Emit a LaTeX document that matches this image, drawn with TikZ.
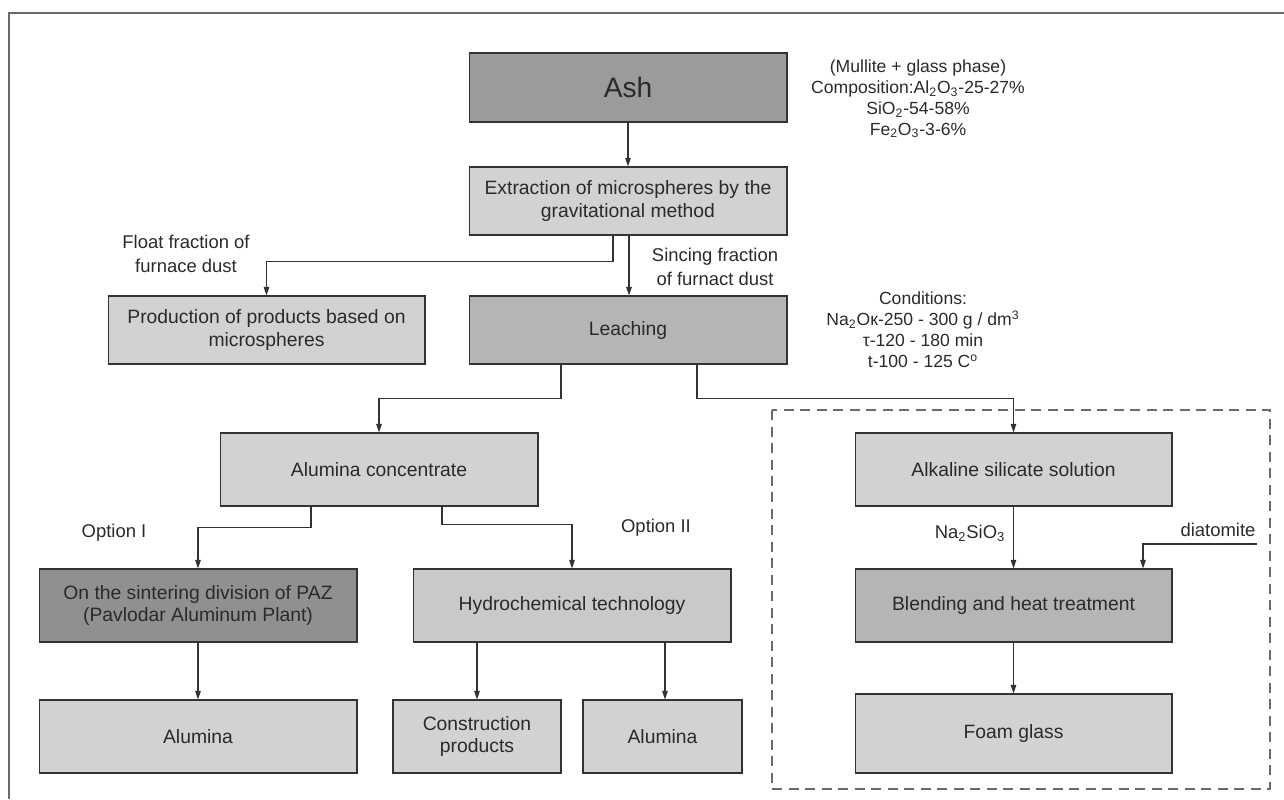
\documentclass[tikz,border=0pt]{standalone}
\usepackage{fontspec}
\setmainfont{Liberation Sans}
\usetikzlibrary{arrows.meta,calc}

\definecolor{boxlight}{HTML}{D1D2D4}
\definecolor{boxmid}{HTML}{B4B5B7}
\definecolor{boxdark}{HTML}{8F9092}
\definecolor{boxash}{HTML}{9A9B9D}
\definecolor{boxhydro}{HTML}{C8C9CB}
\definecolor{linegray}{HTML}{333333}
\definecolor{framegray}{HTML}{6A6A6A}
\definecolor{textgray}{HTML}{2A2A2A}

\begin{document}
\begin{tikzpicture}[x=0.02cm, y=-0.02cm,
    box/.style={draw=linegray, line width=0.6pt, fill=boxlight, align=center,
      inner sep=0pt, text=textgray, font=\fontsize{11}{13}\selectfont},
    note/.style={align=center, inner sep=0pt, text=textgray, font=\fontsize{10.5}{13.5}\selectfont},
    info/.style={align=center, inner sep=0pt, text=textgray, font=\fontsize{10}{11.9}\selectfont},
    arr/.style={draw=linegray, line width=0.6pt, -{Triangle[length=0.17cm, width=0.11cm]}}]
  \useasboundingbox (0,0) rectangle (1284,799);

  % Draw frame
  \draw[framegray, line width=1.1pt] (1284,13) -- (9,13) -- (9,799);

  % Draw dashed group
  \draw[framegray, line width=0.8pt, dash pattern=on 0.2cm off 0.13cm] (772,410) rectangle (1270,789);

  % Top chain
  \node[box, fill=boxash, minimum width=6.36cm, minimum height=1.38cm,
    font=\fontsize{16}{19}\selectfont] (ash) at (628,87.5) {Ash};
  \node[box, minimum width=6.36cm, minimum height=1.36cm] (extr) at (628,201)
    {Extraction of microspheres by the\\gravitational method};
  \node[box, minimum width=6.34cm, minimum height=1.36cm] (prod) at (266.5,330)
    {Production of products based on\\microspheres};
  \node[box, fill=boxmid, minimum width=6.36cm, minimum height=1.36cm] (leach) at (628,330) {Leaching};

  % Middle row
  \node[box, minimum width=6.36cm, minimum height=1.46cm] (conc) at (379,469.5) {Alumina concentrate};
  \node[box, minimum width=6.34cm, minimum height=1.46cm] (alk) at (1013.5,469.5) {Alkaline silicate solution};

  \node[box, fill=boxdark, minimum width=6.36cm, minimum height=1.46cm] (sint) at (198,605.5)
    {On the sintering division of PAZ\\(Pavlodar Aluminum Plant)};
  \node[box, fill=boxhydro, minimum width=6.36cm, minimum height=1.46cm] (hydro) at (572,605.5)
    {Hydrochemical technology};
  \node[box, fill=boxmid, minimum width=6.34cm, minimum height=1.46cm] (blend) at (1013.5,605.5)
    {Blending and heat treatment};

  % Bottom row
  \node[box, minimum width=6.36cm, minimum height=1.46cm] (alum1) at (198,736.5) {Alumina};
  \node[box, minimum width=3.36cm, minimum height=1.46cm] (constr) at (477,736.5) {Construction\\products};
  \node[box, minimum width=3.18cm, minimum height=1.46cm] (alum2) at (662.5,736.5) {Alumina};
  \node[box, minimum width=6.34cm, minimum height=1.58cm] (foam) at (1013.5,733.5) {Foam glass};

  % Labels
  \node[info] (comp) at (918,99)
    {(Mullite + glass phase)\\Composition:Al\textsubscript{2}O\textsubscript{3}-25-27\%\\SiO\textsubscript{2}-54-58\%\\Fe\textsubscript{2}O\textsubscript{3}-3-6\%};
  \node[info] (cond) at (923,330)
    {Conditions:\\Na\textsubscript{2}Oк-250 - 300 g / dm\textsuperscript{3}\\τ-120 - 180 min\\t-100 - 125 C\textsuperscript{o}};
  \node[note] (float) at (186,254) {Float fraction of\\furnace dust};
  \node[note] (sinc) at (715,267) {Sincing fraction\\of furnact dust};
  \node[note] (opt1) at (114,533) {Option I};
  \node[note] (opt2) at (656,528) {Option II};
  \node[note] (nasi) at (970,533) {Na\textsubscript{2}SiO\textsubscript{3}};
  \node[note] (diatlbl) at (1218,530) {diatomite};

  % Connectors
  \draw[arr] (ash) -- (extr);
  \draw[arr] ($(extr.south)+(-15,0)$) -- ++(0,26) -| (prod.north);
  \draw[arr] ($(extr.south)+(1,0)$) -- ($(leach.north)+(1,0)$);
  \draw[arr] ($(leach.south)+(-67,0)$) -- ++(0,34) -| (conc.north);
  \draw[arr] ($(leach.south)+(69,0)$) -- ++(0,34) -| (alk.north);
  \draw[arr] ($(conc.south)+(-68,0)$) -- ++(0,21) -| (sint.north);
  \draw[arr] ($(conc.south)+(63,0)$) -- ++(0,18) -| (hydro.north);
  \draw[arr] (sint) -- (alum1);
  \draw[arr] (constr.north |- hydro.south) -- (constr.north);
  \draw[arr] ($(alum2.north |- hydro.south)+(2.5,0)$) -- ($(alum2.north)+(2.5,0)$);
  \draw[arr] (alk) -- (blend);
  \coordinate (diat) at (1257,544);
  \draw[arr] (diat) -| ($(blend.north)+(129.5,0)$);
  \draw[arr] (blend) -- (foam);
\end{tikzpicture}
\end{document}
